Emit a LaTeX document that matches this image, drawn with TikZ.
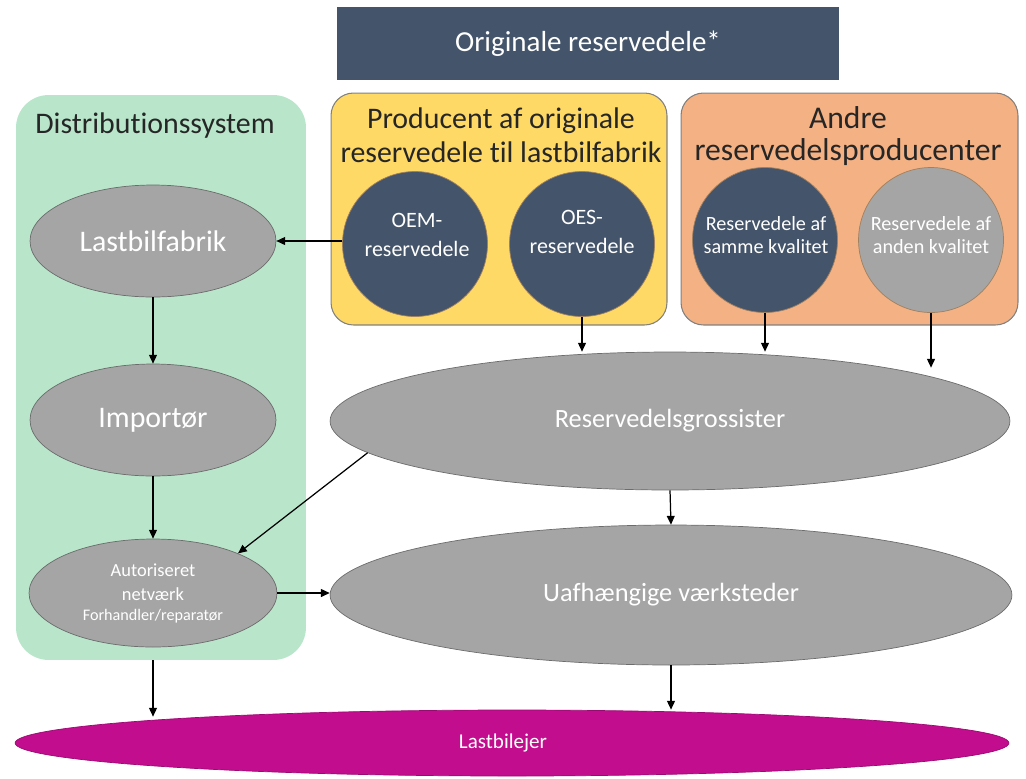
\documentclass[tikz,border=0pt]{standalone}
\usepackage{fontspec}
\setmainfont{Carlito}[Ligatures=NoCommon]
\usetikzlibrary{shapes,arrows.meta,calc}
\definecolor{navy}{HTML}{44546A}
\definecolor{grayfill}{HTML}{A5A5A5}
\definecolor{greenbox}{HTML}{B9E6CB}
\definecolor{yellowbox}{HTML}{FFD966}
\definecolor{orangebox}{HTML}{F4B183}
\definecolor{magentafill}{HTML}{C20D8E}
\tikzset{
  grayell/.style={ellipse, draw=gray!85!black, fill=grayfill, text=white, inner sep=0pt, align=center},
  partcirc/.style={circle, draw=brown!50!gray, fill=navy, inner sep=0pt, minimum size=2.9cm},
  parttext/.style={text=white, align=center, inner sep=0pt, font=\fontsize{12.5}{17}\selectfont},
  qualtext/.style={parttext, font=\fontsize{11.5}{13.6}\selectfont},
  groupbox/.style={rectangle, rounded corners=0.45cm, draw=gray, line width=0.6pt},
  boxtitle/.style={align=center, text=black!85, font=\fontsize{17}{19.4}\selectfont},
  arr/.style={-{Triangle[length=5pt,width=4.5pt]}, line width=0.7pt, black}
}

\begin{document}
\begin{tikzpicture}[x=0.02cm, y=-0.02cm]
\useasboundingbox (0,0) rectangle (1026,778);
% top banner
\node [rectangle, fill=navy, text=white, minimum width=10.04cm, minimum height=1.46cm,
  font=\fontsize{16.5}{19}\selectfont] (orig) at (588,43.5) {Originale reservedele*};

% three groups
\node [rectangle, rounded corners=0.65cm, fill=greenbox, minimum width=5.8cm, minimum height=11.3cm] (distsys) at (161,377.5) {};
\node [boxtitle] (disttitle) at (155,126) {Distributionssystem};
\node [groupbox, fill=yellowbox, minimum width=6.72cm, minimum height=4.64cm] (producent) at (499,209) {};
\node [boxtitle] (prodtitle) at (501,135) {Producent af originale\\reservedele til lastbilfabrik};
\node [groupbox, fill=orangebox, minimum width=6.74cm, minimum height=4.64cm] (andre) at (849.5,209) {};
\node [boxtitle, font=\fontsize{18}{18.4}\selectfont] (andretitle) at (848,136) {Andre\\reservedelsproducenter};

% parts
\node [partcirc] (oem) at (415,244) {};
\node [parttext] (oemtxt) at (417,235) {OEM-\\reservedele};
\node [partcirc] (oes) at (582,244) {};
\node [parttext] (oestxt) at (582,232) {OES-\\reservedele};
\node [partcirc] (same) at (765,240) {};
\node [qualtext] (sametxt) at (766,235) {Reservedele af\\samme kvalitet};
\node [partcirc, fill=grayfill] (other) at (931,240) {};
\node [qualtext] (othertxt) at (931,235) {Reservedele af\\anden kvalitet};

% distribution chain
\node [grayell, minimum width=4.92cm, minimum height=2.24cm, font=\fontsize{17}{20}\selectfont] (lastbil) at (153,241) {Lastbilfabrik};
\node [grayell, minimum width=4.92cm, minimum height=2.24cm, font=\fontsize{17}{20}\selectfont] (importor) at (153,420) {Importør};
\node [grayell, minimum width=4.96cm, minimum height=2.16cm, font=\fontsize{10.5}{14}\selectfont] (autor) at (153,593)
  {Autoriseret\\netværk\\[-3pt]{\fontsize{9.2}{11}\selectfont Forhandler/reparatør}};
\node [grayell, minimum width=13.6cm, minimum height=2.76cm, font=\fontsize{15}{18}\selectfont] (grossist) at (670,421) {Reservedelsgrossister};
\node [grayell, minimum width=13.64cm, minimum height=2.8cm, font=\fontsize{15}{18}\selectfont] (uafh) at (671,595) {Uafhængige værksteder};
\node [ellipse, draw=magentafill!80!black, fill=magentafill, text=white, inner sep=0pt,
  minimum width=19.88cm, minimum height=1.32cm] (ejer) at (512,743) {};
\node [text=white, font=\fontsize{12}{14}\selectfont] (ejertxt) at (503,743) {Lastbilejer};

% arrows
\draw [arr] (oem.west |- lastbil) -- (lastbil.east);
\draw [arr] (lastbil.south) -- (importor.north);
\draw [arr] (importor.south) -- (autor.north);
\draw [arr] (oes.south) -- (oes.south |- grossist.north);
\draw [arr] (same.south) -- (same.south |- grossist.north);
\draw [arr] (other.south) -- ($(other.south |- grossist.north)+(0,16)$);
\draw [arr] (grossist.186) -- (autor.25);
\draw [arr] (grossist.south) -- (uafh.north);
\draw [arr] (autor.east) -- (autor.east -| uafh.west);
\draw [arr] (distsys.south -| autor.south) -- ($(autor.south |- ejer.north)+(0,7)$);
\draw [arr] (uafh.south) -- (uafh.south |- ejer.north);
\end{tikzpicture}
\end{document}
